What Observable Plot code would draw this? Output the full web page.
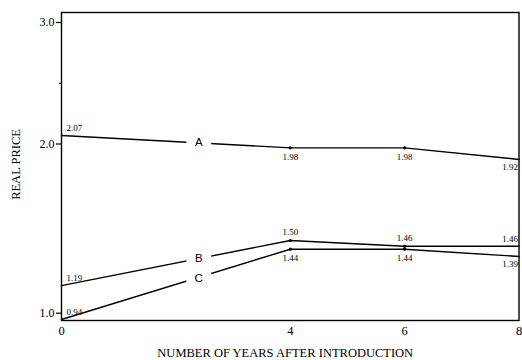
<!DOCTYPE html>
<html><head><meta charset="utf-8">
<script src="https://cdn.jsdelivr.net/npm/d3@7"></script>
<script src="https://cdn.jsdelivr.net/npm/@observablehq/plot@0.6"></script>
<style>body{margin:0;background:#fff}</style>
</head><body><div id="chart"></div>
<script>
const years = [0, 4, 6, 8];
const seriesNames = ["A", "B", "C"];
const priceA = [2.07, 1.98, 1.98, 1.92];
const priceB = [1.19, 1.50, 1.46, 1.46];
const priceC = [0.94, 1.44, 1.44, 1.39];
const yTicks = [1, 2, 3];
const yMinorTicks = [2.5];
const xTicks = [0, 4, 6, 8];
const labelYear = 2.4;
const yTitle = "REAL PRICE";
const xTitle = "NUMBER OF YEARS AFTER INTRODUCTION";

const seriesValues = [priceA, priceB, priceC];
const rows = seriesNames.flatMap((s, i) =>
  years.map((yr, j) => ({series: s, year: yr, price: seriesValues[i][j]})));

// where each series letter sits on its own line
const lineLabels = seriesNames.map((s, i) => {
  const v = seriesValues[i];
  const t = (labelYear - years[0]) / (years[1] - years[0]);
  return {series: s, year: labelYear, price: v[0] + t * (v[1] - v[0])};
});

const first = years[0], last = years[years.length - 1];
const above = d => d.series === "B" || d.year === first;
const fmt2 = d3.format(".2f");

const valueText = (filter, opts) => Plot.text(rows.filter(filter), {
  x: "year", y: "price", text: d => fmt2(d.price),
  fontSize: 9, fill: "black", ...opts
});

const chart = Plot.plot({
  width: 522,
  height: 360,
  marginLeft: 61,
  marginRight: 3.5,
  marginTop: 12,
  marginBottom: 40,
  style: {fontFamily: "Liberation Serif", fontSize: "12px", background: "white", color: "black"},
  x: {domain: [0, 8]},
  y: {type: "linear", domain: [0.93, 1, 1.5, 2, 3, 3.08], range: [320, 312.7, 240, 143.5, 22, 12.3]},
  marks: [
    Plot.frame({stroke: "black", strokeWidth: 1.4}),
    Plot.axisY(yTicks, {anchor: "left", tickSize: 5, tickPadding: 2, tickFormat: d3.format(".1f"), label: null, strokeWidth: 1.2, fontSize: 12, fontFamily: "Liberation Serif"}),
    Plot.axisY(yMinorTicks, {anchor: "left", tickSize: 2, tickFormat: () => "", label: null, strokeWidth: 1}),
    Plot.axisX(xTicks, {anchor: "bottom", tickSize: 0, tickPadding: 6, tickFormat: d3.format("d"), label: null, fontSize: 12.5, fontFamily: "Liberation Serif"}),
    Plot.line(rows, {x: "year", y: "price", z: "series", stroke: "black", strokeWidth: 1.4}),
    Plot.dot(rows.filter(d => d.year > first && d.year < last), {x: "year", y: "price", r: 1.6, fill: "black"}),
    Plot.dot(lineLabels, {x: "year", y: "price", symbol: "square", r: 14, fill: "white", stroke: "none"}),
    Plot.text(lineLabels, {x: "year", y: "price", text: "series", fontFamily: "Liberation Sans", fontSize: 11.5, fill: "black"}),
    valueText(d => d.year === first, {textAnchor: "start", dx: 5, dy: -7}),
    valueText(d => d.year > first && d.year < last && above(d), {textAnchor: "middle", dy: -8}),
    valueText(d => d.year > first && d.year < last && !above(d), {textAnchor: "middle", dy: 9}),
    valueText(d => d.year === last && above(d), {textAnchor: "end", dx: -1, dy: -7}),
    valueText(d => d.year === last && !above(d), {textAnchor: "end", dx: -1, dy: 8}),
    Plot.text([yTitle], {frameAnchor: "left", textAnchor: "middle", lineAnchor: "middle", dx: -46, dy: -2, rotate: -90, text: d => d, fontSize: 12.5}),
    Plot.text([xTitle], {frameAnchor: "bottom", textAnchor: "middle", lineAnchor: "middle", dx: -5, dy: 32, text: d => d, fontSize: 12.5})
  ]
});
document.getElementById("chart").appendChild(chart);
</script>
</body></html>
